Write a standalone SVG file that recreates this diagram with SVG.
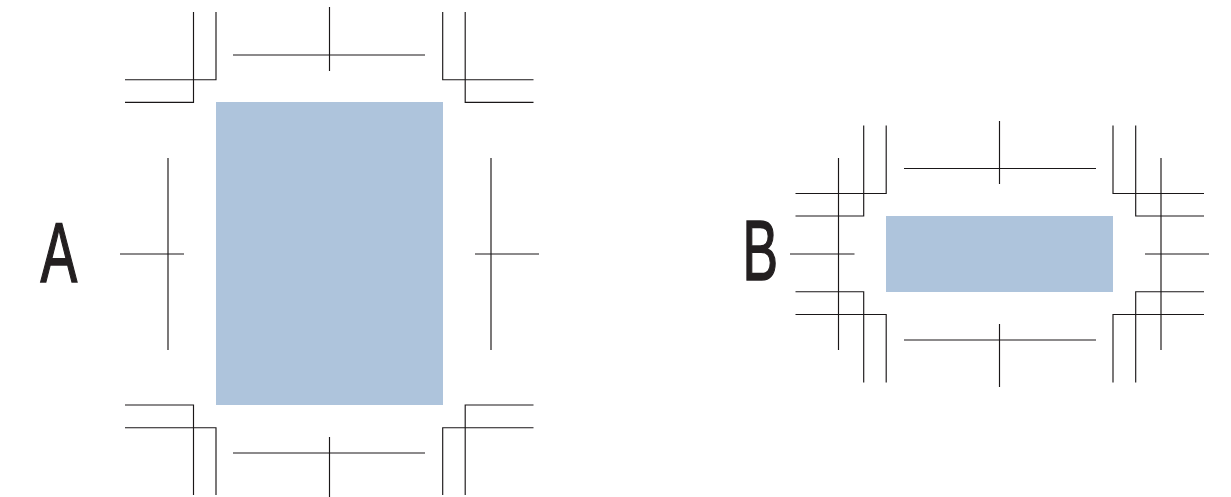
<svg xmlns="http://www.w3.org/2000/svg" width="1231" height="497" viewBox="0 0 1231 497">
<style>
.l{fill:none;stroke:#1a1718;stroke-width:1.15}
.p{fill:#aec4dc}
.t{font-family:"Liberation Sans",Arial,sans-serif;font-size:86px;fill:#231f20;stroke:#231f20;stroke-width:1.6}
</style>
<rect width="1231" height="497" fill="#fff"/>
<g id="panel-a">
<rect class="p" x="216" y="102" width="227" height="303"/>
<text class="t" transform="translate(40.5 281.5) scale(0.64 1)">A</text>
</g>
<g id="panel-b">
<rect class="p" x="886" y="216" width="227" height="76"/>
<text class="t" transform="translate(742.5 279.5) scale(0.62 1)">B</text>
</g>
<g id="connectors">
<g id="marks-a">
<path class="l" d="M193.5 12V102.3H125M216 12V79.7H125"/>
<path class="l" d="M465.2 12V102.3H533.5M442.7 12V79.7H533.5"/>
<path class="l" d="M193.5 495V405H125M216 495V427.7H125"/>
<path class="l" d="M465.2 495V405H533.5M442.7 495V427.7H533.5"/>
<path class="l" d="M233 55H425M329.5 7V71"/>
<path class="l" d="M233 453H425M329.5 437V497"/>
<path class="l" d="M168 158V350M120 254H184"/>
<path class="l" d="M491 158V350M475 254H539"/>
</g>
<g id="marks-b">
<path class="l" d="M863.7 125.5V216H795.5M886.2 125.5V193.5H795.5"/>
<path class="l" d="M1135.7 125.5V216H1204M1113 125.5V193.5H1204"/>
<path class="l" d="M863.7 382.5V291.7H795.5M886.2 382.5V314.5H795.5"/>
<path class="l" d="M1135.7 382.5V291.7H1204M1113 382.5V314.5H1204"/>
<path class="l" d="M904 168.5H1096M999.5 121V184"/>
<path class="l" d="M904 340H1096M999.5 324V387"/>
<path class="l" d="M838.5 158V350M790 254H854.5"/>
<path class="l" d="M1161 158V350M1145 254H1209"/>
</g>
</g>
</svg>
